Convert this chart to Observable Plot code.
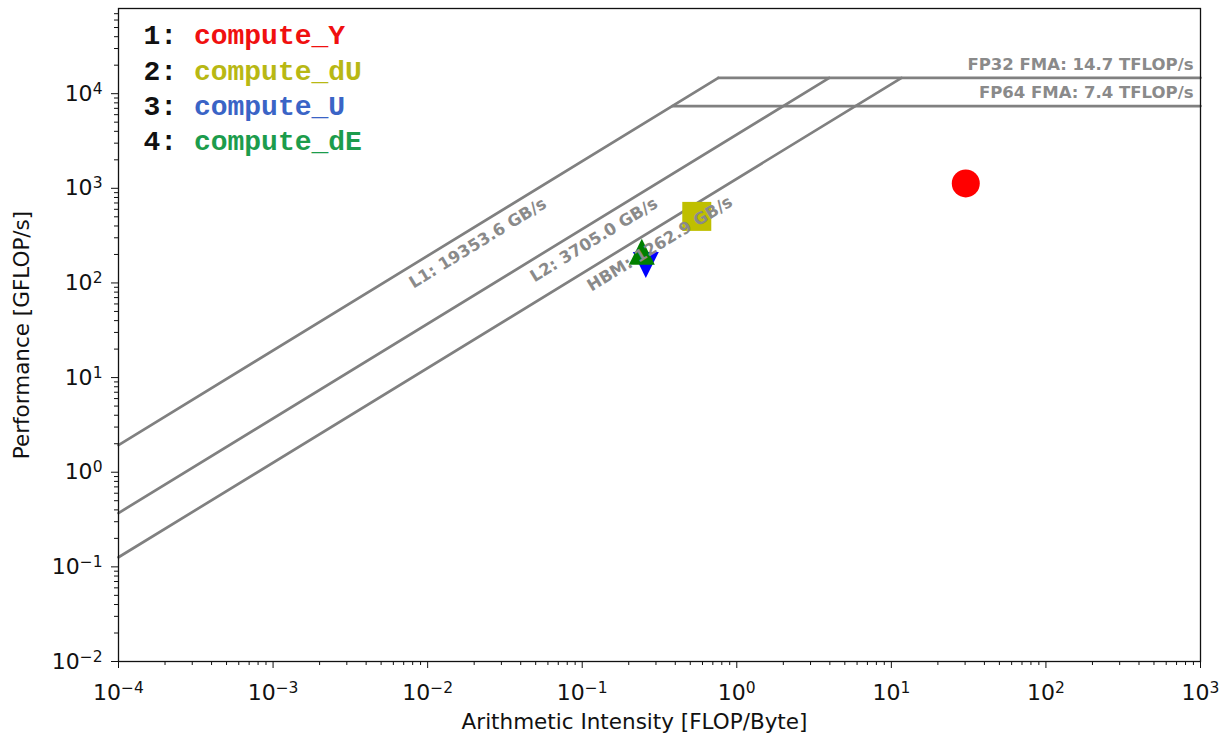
<!DOCTYPE html>
<html><head><meta charset="utf-8">
<script src="https://cdn.jsdelivr.net/npm/d3@7"></script>
<script src="https://cdn.jsdelivr.net/npm/@observablehq/plot@0.6"></script>
<style>body{margin:0;background:#fff;} #chart{width:1226px;height:734px;}</style>
</head><body><div id="chart"></div>
<script>
// ---- data ----
const kernelNames = ["compute_Y", "compute_dU", "compute_U", "compute_dE"];
const kernelIntensity = [30.3, 0.551, 0.258, 0.243];      // FLOP/Byte
const kernelPerformance = [1127, 505, 155, 213];           // GFLOP/s
const ceilingNames = ["FP32 FMA", "FP64 FMA"];
const ceilingTFLOPs = [14.7, 7.4];
const memoryNames = ["L1", "L2", "HBM"];
const memoryGBs = [19353.6, 3705.0, 1262.9];
const xTickExponents = [-4, -3, -2, -1, 0, 1, 2, 3];
const yTickExponents = [-2, -1, 0, 1, 2, 3, 4];

// ---- styles ----
const markerColors = ["#ff0000", "#bfbf00", "#0000ff", "#008000"];
const legendColors = ["#f01010", "#b8b814", "#3a64c6", "#1c9c4c"];
const W = 1226, H = 734, mL = 118, mR = 26, mT = 8, mB = 73;
const xDomain = [1e-4, 1e3], yDomain = [1e-2, Math.pow(10, 4.9)];
const pxPerDecX = (W - mL - mR) / Math.log10(xDomain[1] / xDomain[0]);
const pxPerDecY = (H - mT - mB) / Math.log10(yDomain[1] / yDomain[0]);
const angle = -Math.atan(pxPerDecY / pxPerDecX) * 180 / Math.PI;

// roofline segments
const peaks = ceilingTFLOPs.map(t => t * 1000);
const roof = [];
memoryGBs.forEach((bw, i) => {
  roof.push({x: xDomain[0], y: xDomain[0] * bw, z: "m" + i});
  roof.push({x: peaks[0] / bw, y: peaks[0], z: "m" + i});
});
peaks.forEach((p, i) => {
  roof.push({x: p / d3.max(memoryGBs), y: p, z: "c" + i});
  roof.push({x: xDomain[1], y: p, z: "c" + i});
});

// bandwidth labels, placed along each line
const bwLabelAt = [0.0211, 0.119, 0.318];
const bwLabels = memoryNames.map((n, i) => ({
  x: bwLabelAt[i], y: bwLabelAt[i] * memoryGBs[i],
  text: `${n}: ${memoryGBs[i].toFixed(1)} GB/s`
}));
const ceilLabels = ceilingNames.map((n, i) => ({y: peaks[i], text: `${n}: ${ceilingTFLOPs[i].toFixed(1)} TFLOP/s`}));

// custom marker symbols (bbox-centred like matplotlib)
function poly(pts) {
  return {draw(ctx, size) {
    const h = Math.sqrt(size / Math.PI);
    ctx.moveTo(pts[0][0] * h, pts[0][1] * h);
    for (let k = 1; k < pts.length; k++) ctx.lineTo(pts[k][0] * h, pts[k][1] * h);
    ctx.closePath();
  }};
}
const symbols = [d3.symbolCircle, poly([[-1,-1],[1,-1],[1,1],[-1,1]]), poly([[0,1],[1,-1],[-1,-1]]), poly([[0,-1],[1,1],[-1,1]])];
const sizes = [14, 14.5, 13, 13];

const minorTicks = (lo, hi) => {
  const t = [];
  for (let e = lo; e < hi; e++) for (let m = 2; m <= 9; m++) t.push(m * Math.pow(10, e));
  return t;
};
const xMinor = minorTicks(-4, 3);
const yMinor = minorTicks(-2, 5).filter(v => v <= yDomain[1]);
const supFmt = d => "10^" + String(Math.round(Math.log10(d))).replace("-", "\u2212");

const labelStyle = {fill: "#8a8a8a", fontWeight: "bold", fontSize: 16.5, fontFamily: "DejaVu Sans"};

const marks = [
  Plot.line(roof, {x: "x", y: "y", z: "z", stroke: "#808080", strokeWidth: 2.7}),
  ...kernelNames.map((k, i) => Plot.dot([i], {
    x: i => kernelIntensity[i], y: i => kernelPerformance[i],
    symbol: symbols[i], r: sizes[i], fill: markerColors[i], stroke: "none"
  })),
  Plot.text(bwLabels, {x: "x", y: "y", text: "text", rotate: angle, dy: 18,
    textAnchor: "middle", lineAnchor: "middle", ...labelStyle}),
  Plot.text(ceilLabels, {y: "y", text: "text", frameAnchor: "right", dx: -7, dy: -13,
    textAnchor: "end", lineAnchor: "middle", ...labelStyle}),
  ...kernelNames.flatMap((k, i) => [
    Plot.text([`${i + 1}:`], {frameAnchor: "top-left", dx: 25, dy: 27 + i * 35.3, text: d => d,
      textAnchor: "start", lineAnchor: "middle", fill: "#111", fontSize: 28, fontWeight: "bold", fontFamily: "Liberation Mono"}),
    Plot.text([k], {frameAnchor: "top-left", dx: 25 + 50.4, dy: 27 + i * 35.3, text: d => d,
      textAnchor: "start", lineAnchor: "middle", fill: legendColors[i], fontSize: 28, fontWeight: "bold", fontFamily: "Liberation Mono"})
  ]),
  Plot.axisX(xTickExponents.map(e => Math.pow(10, e)), {tickSize: 7, tickPadding: 16, tickFormat: supFmt, fontSize: 22, label: null}),
  Plot.axisX(xMinor, {tickSize: 4, tickFormat: () => "", label: null}),
  Plot.axisY(yTickExponents.map(e => Math.pow(10, e)), {tickSize: 7, tickPadding: 9, tickFormat: supFmt, fontSize: 22, label: null}),
  Plot.axisY(yMinor, {tickSize: 4, tickFormat: () => "", label: null}),
  Plot.text(["Arithmetic Intensity [FLOP/Byte]"], {frameAnchor: "bottom", dx: -25, dy: 61, text: d => d,
    textAnchor: "middle", lineAnchor: "middle", fontSize: 21.5, fill: "#111"}),
  Plot.text(["Performance [GFLOP/s]"], {frameAnchor: "left", dx: -96, rotate: -90, text: d => d,
    textAnchor: "middle", lineAnchor: "middle", fontSize: 21.5, fill: "#111"}),
  Plot.frame({stroke: "#111", strokeWidth: 1.3})
];

const svg = Plot.plot({
  width: W, height: H,
  marginLeft: mL, marginRight: mR, marginTop: mT, marginBottom: mB,
  style: {fontFamily: "DejaVu Sans", background: "#fff", color: "#111", overflow: "visible"},
  x: {type: "log", domain: xDomain, axis: null},
  y: {type: "log", domain: yDomain, axis: null},
  marks
});

// superscript exponents in tick labels
d3.select(svg).selectAll('g[aria-label="x-axis tick label"] text, g[aria-label="y-axis tick label"] text').each(function() {
  const s = this.textContent;
  const m = s.match(/^10\^(.+)$/);
  if (!m) return;
  const el = d3.select(this);
  el.text(null);
  el.append("tspan").text("10");
  el.append("tspan").attr("dy", "-0.45em").attr("font-size", "15.5px").text(m[1]);
});

document.getElementById("chart").appendChild(svg);
</script>
</body></html>
